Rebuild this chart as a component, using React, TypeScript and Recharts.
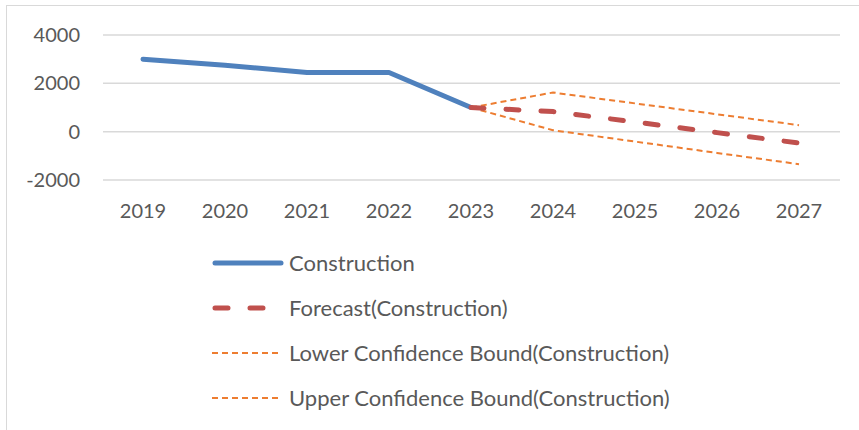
import React from "react";
import { LineChart, Line, XAxis, YAxis, CartesianGrid, Legend } from "recharts";

const years = ["2019", "2020", "2021", "2022", "2023", "2024", "2025", "2026", "2027"];
const construction = [3000, 2750, 2450, 2450, 1000, null, null, null, null];
const forecast = [null, null, null, null, 1000, 830, 400, -40, -470];
const lowerBound = [null, null, null, null, 1000, 60, -410, -880, -1345];
const upperBound = [null, null, null, null, 1000, 1620, 1170, 720, 270];
const yTicks = [-2000, 0, 2000, 4000];

const data = years.map((y, i) => ({
  year: y,
  construction: construction[i],
  forecast: forecast[i],
  lower: lowerBound[i],
  upper: upperBound[i],
}));

const FONT = "Lato, 'Open Sans', sans-serif";
const TEXT = "#595959";

const legendItems = [
  { label: "Construction", color: "#4f81bd", width: 5, dash: undefined as string | undefined, cap: "round" },
  { label: "Forecast(Construction)", color: "#c0504d", width: 5, dash: "13 22", cap: "round" },
  { label: "Lower Confidence Bound(Construction)", color: "#ed7d31", width: 2, dash: "6 4", cap: "butt" },
  { label: "Upper Confidence Bound(Construction)", color: "#ed7d31", width: 2, dash: "6 4", cap: "butt" },
];

const renderLegend = () => (
  <div style={{ width: 0, height: 0, overflow: "visible" }}>
    <div style={{ fontFamily: FONT, fontSize: 22, color: TEXT, whiteSpace: "nowrap", width: 560 }}>
      {legendItems.map((it) => (
        <div key={it.label} style={{ display: "flex", alignItems: "center", height: 45 }}>
          <svg width={72} height={12} style={{ marginRight: 5 }}>
            <line
              x1={it.cap === "round" ? 3 : 0}
              y1={6}
              x2={it.cap === "round" ? 69 : 70}
              y2={6}
              stroke={it.color}
              strokeWidth={it.width}
              strokeDasharray={it.dash}
              strokeLinecap={it.cap as any}
            />
          </svg>
          <span>{it.label}</span>
        </div>
      ))}
    </div>
  </div>
);

export default function App() {
  return (
    <div style={{ position: "absolute", left: 0, top: 0, width: 859, height: 430, overflow: "hidden", background: "#fff" }}>
      <div
        style={{
          position: "absolute",
          left: 6,
          top: 5,
          width: 900,
          height: 500,
          border: "1px solid #d9d9d9",
        }}
      />
      <div style={{ position: "absolute", left: 0, top: 0 }}>
        <LineChart
          width={859}
          height={430}
          data={data}
          margin={{ top: 35, right: 19, bottom: 220, left: 0 }}
        >
          <CartesianGrid vertical={false} stroke="#d9d9d9" strokeWidth={1.5} />
          <XAxis
            dataKey="year"
            axisLine={false}
            tickLine={false}
            tickSize={0}
            tickMargin={24}
            height={30}
            padding={{ left: 40, right: 41 }}
            tick={{ fill: TEXT, fontSize: 20, fontFamily: FONT }}
          />
          <YAxis
            domain={[-2000, 4000]}
            ticks={yTicks}
            axisLine={false}
            tickLine={false}
            tickSize={0}
            tickMargin={23}
            width={103}
            tick={{ fill: TEXT, fontSize: 20, fontFamily: FONT }}
          />
          <Legend
            layout="vertical"
            align="center"
            verticalAlign="bottom"
            content={renderLegend}
            wrapperStyle={{ position: "absolute", left: 212, top: 240, width: 0, height: 0, bottom: "auto" }}
          />
          <Line
            dataKey="construction"
            stroke="#4f81bd"
            strokeWidth={5}
            strokeLinecap="round"
            strokeLinejoin="round"
            dot={false}
            activeDot={false}
            isAnimationActive={false}
          />
          <Line
            dataKey="lower"
            stroke="#ed7d31"
            strokeWidth={2}
            strokeDasharray="6 4"
            dot={false}
            activeDot={false}
            isAnimationActive={false}
          />
          <Line
            dataKey="upper"
            stroke="#ed7d31"
            strokeWidth={2}
            strokeDasharray="6 4"
            dot={false}
            activeDot={false}
            isAnimationActive={false}
          />
          <Line
            dataKey="forecast"
            stroke="#c0504d"
            strokeWidth={5}
            strokeDasharray="13 22"
            strokeLinecap="round"
            dot={false}
            activeDot={false}
            isAnimationActive={false}
          />
        </LineChart>
      </div>
    </div>
  );
}
